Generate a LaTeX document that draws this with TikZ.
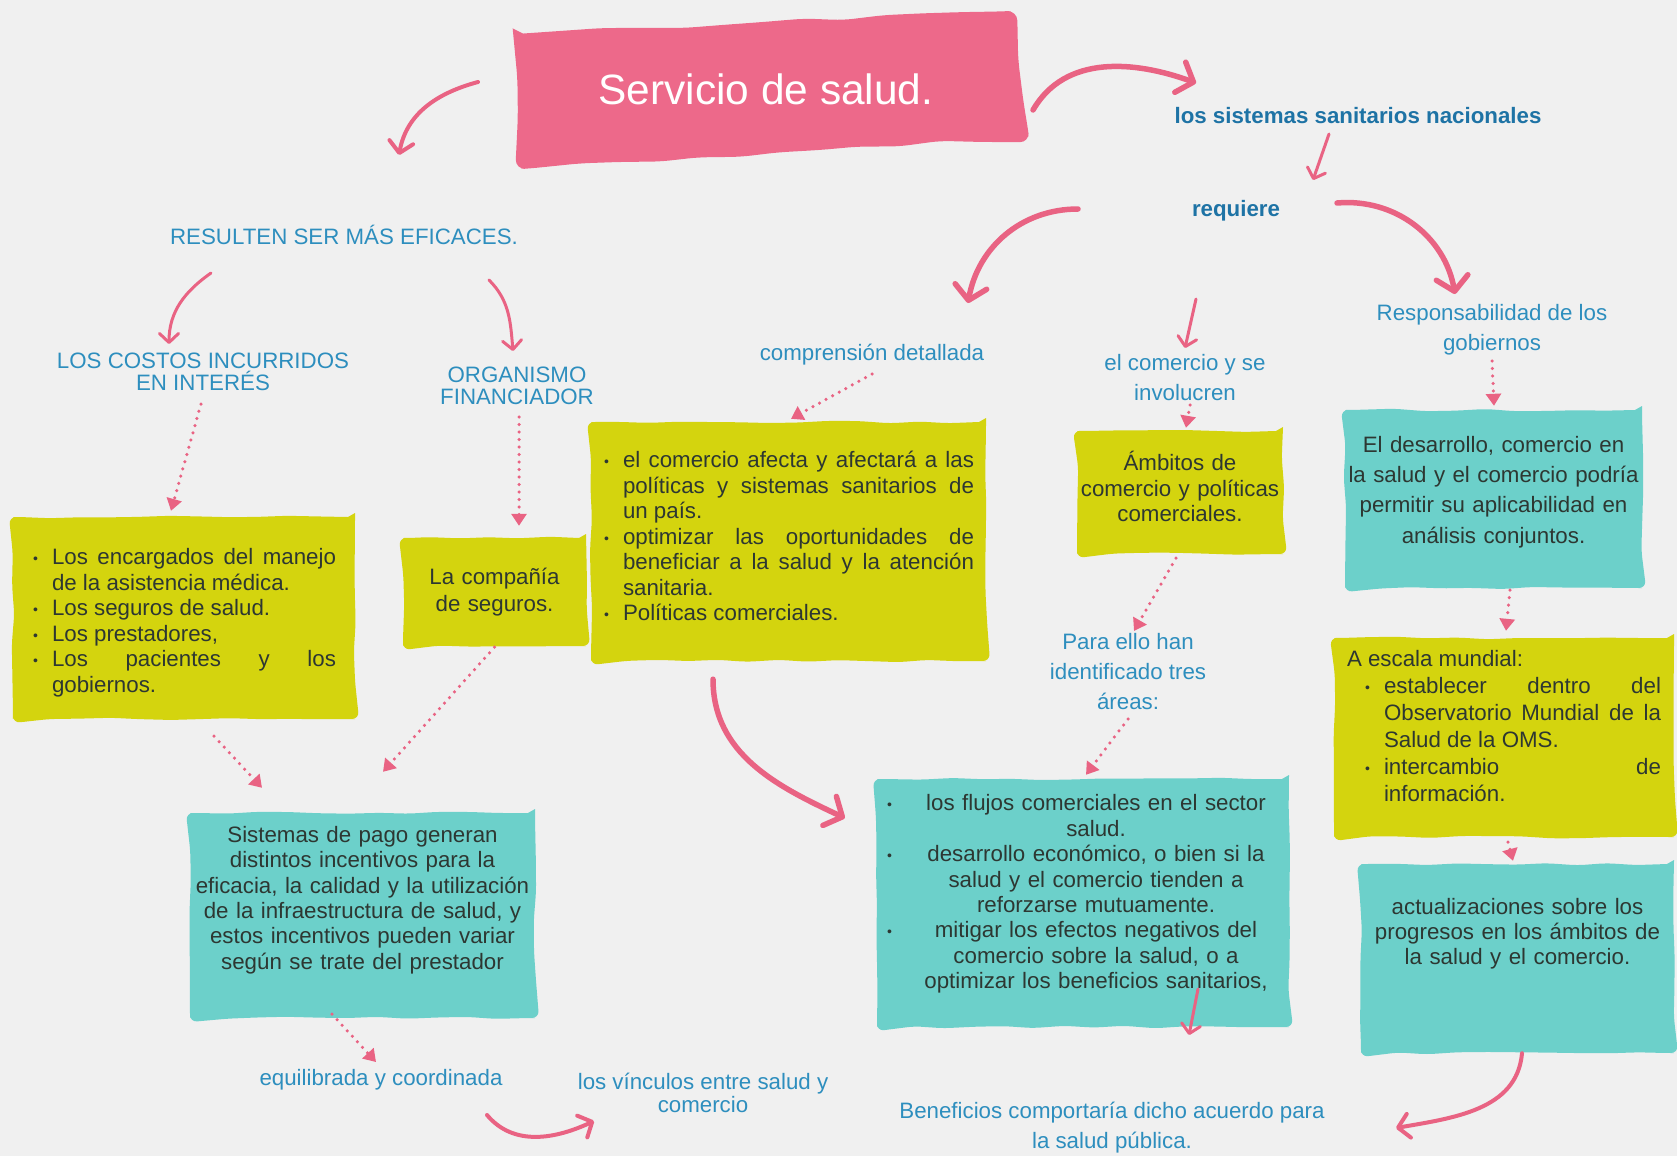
\documentclass[tikz,border=0pt]{standalone}
\usepackage{fontspec}
\setmainfont{Liberation Sans}
\usepackage{enumitem}
\usetikzlibrary{arrows.meta,decorations.pathmorphing}
\definecolor{fondo}{RGB}{240,240,240}
\definecolor{rosa}{RGB}{237,105,138}
\definecolor{flecha}{RGB}{233,99,131}
\definecolor{amarillo}{RGB}{212,212,14}
\definecolor{turquesa}{RGB}{108,208,202}
\definecolor{azul}{RGB}{45,142,190}
\definecolor{azulosc}{RGB}{30,115,165}
\definecolor{texto}{RGB}{45,55,50}
\setlength{\parindent}{0pt}
\tolerance=10000 \hbadness=10000 \hyphenpenalty=10000
\newcommand{\punto}{\raisebox{1pt}{\fontsize{14}{14}\selectfont\textbullet}}
\setlist[itemize]{nosep,labelsep=14pt,label=\punto}
\newcommand{\fitem}[1]{\makebox[366pt]{\rlap{\hspace*{-26pt}\punto}\hfill#1\hfill}}

\begin{document}
\begin{tikzpicture}[x=1pt,y=1pt,
  etiq/.style={inner sep=0pt,text=azul,align=center,font=\fontsize{22.3}{22}\selectfont},
  negrita/.style={etiq,text=azulosc,font=\fontsize{22.3}{26}\selectfont\bfseries},
  caja/.style={inner ysep=0pt,text=texto,font=\fontsize{22.3}{25.5}\selectfont,
    rounded corners=7pt,decorate,decoration={random steps,segment length=30pt,amplitude=1.3pt}},
  amarilla/.style={caja,fill=amarillo},
  verde/.style={caja,fill=turquesa},
  flechag/.style={draw=flecha,line width=5.5pt,line cap=round,-{Straight Barb[length=14pt,width=32pt,round]}},
  flecham/.style={draw=flecha,line width=4pt,line cap=round,-{Straight Barb[length=11pt,width=24pt,round]}},
  flechad/.style={draw=flecha,line width=3pt,line cap=round,-{Straight Barb[length=9pt,width=19pt,round]}},
  puntos/.style={draw=flecha,line width=3.5pt,line cap=round,dash pattern=on 0pt off 7.5pt,-{Triangle[length=12pt,width=15pt]}}]
\pgfmathsetseed{12}
\useasboundingbox (0,0) rectangle (1677,-1156);
% Fondo
\fill[fondo] (0,0) rectangle (1677,-1156);
% Titulo
\fill[rosa,rounded corners=10pt,decorate,decoration={random steps,segment length=40pt,amplitude=2pt}]
  (513,-34) -- (1011,-11) -- (1029,-137) -- (521,-169) -- cycle;
\node (title) at (766,-89) [text=white,font=\fontsize{42.4}{50}\selectfont] {Servicio de salud.};
% Etiquetas
\node (sistemas) at (1358,-116) [negrita] {los sistemas sanitarios nacionales};
\node (requiere) at (1236,-211) [negrita] {requiere};
\node (resulten) at (344,-235) [etiq] {RESULTEN SER MÁS EFICACES.};
\node (costos) at (203,-372) [etiq] {LOS COSTOS INCURRIDOS\\EN INTERÉS};
\node (organismo) at (517,-386) [etiq] {ORGANISMO\\FINANCIADOR};
\node (comprension) at (872,-355) [etiq] {comprensión detallada};
\node (involucren) at (1185,-378) [etiq,font=\fontsize{22.3}{30}\selectfont] {el comercio y se\\involucren};
\node (responsab) at (1492,-330) [etiq,font=\fontsize{22.3}{30}\selectfont] {Responsabilidad de los\\gobiernos};
\node (paraello) at (1128,-672) [etiq,font=\fontsize{22.3}{30}\selectfont] {Para ello han\\identificado tres\\áreas:};
\node (equilibrada) at (381,-1080) [etiq] {equilibrada y coordinada};
\node (vinculos) at (703,-1093) [etiq,font=\fontsize{22.3}{23}\selectfont] {los vínculos entre salud y\\comercio};
\node (beneficios) at (1112,-1128) [etiq,font=\fontsize{22.3}{30}\selectfont] {Beneficios comportaría dicho acuerdo para\\la salud pública.};
% Cajas
\node (sujetos) at (184,-618) [amarilla,text width=304pt,inner xsep=19pt,minimum height=202pt,align=justify] {%
\begin{itemize}[leftmargin=20pt]
\item Los encargados del manejo\linebreak de la asistencia médica.
\item Los seguros de salud.
\item Los prestadores,
\item Los pacientes y los\linebreak gobiernos.
\end{itemize}};
\node (compania) at (494.5,-592) [amarilla,text width=155pt,inner xsep=14pt,minimum height=108pt,align=center,
  font=\fontsize{22.3}{26.7}\selectfont] {La compañía\\de seguros.};
\node (afecta) at (788.5,-541.5) [amarilla,text width=371pt,inner xsep=12pt,minimum height=239pt,align=justify] {%
\begin{itemize}[leftmargin=20pt]
\item el comercio afecta y afectará a las\linebreak políticas y sistemas sanitarios de\linebreak un país.
\item optimizar las oportunidades de\linebreak beneficiar a la salud y la atención\linebreak sanitaria.
\item Políticas comerciales.
\end{itemize}\par\vspace{20pt}};
\node (ambitos) at (1180,-492.5) [amarilla,text width=206pt,inner xsep=0pt,minimum height=123pt,align=center,
  font=\fontsize{22.3}{25.7}\selectfont] {Ámbitos de\\comercio y políticas\\comerciales.\par\vspace{12pt}};
\node (desarrollo) at (1493.5,-499) [verde,text width=297pt,inner xsep=0pt,minimum height=178pt,align=center,
  font=\fontsize{22.3}{30.4}\selectfont] {El desarrollo, comercio en\\la salud y el comercio podría\\permitir su aplicabilidad en\\análisis conjuntos.\par\vspace{14pt}};
\node (mundial) at (1504,-737.5) [amarilla,text width=314pt,inner xsep=13pt,minimum height=199pt,align=justify,
  font=\fontsize{22.3}{27}\selectfont] {A escala mundial:
\begin{itemize}[leftmargin=37pt]
\item establecer dentro del\linebreak Observatorio Mundial de la\linebreak Salud de la OMS.
\item intercambio de\linebreak información.
\end{itemize}\par\vspace{22pt}};
\node (pago) at (362.5,-915.5) [verde,text width=341pt,inner xsep=2pt,minimum height=205pt,align=center,
  font=\fontsize{22.3}{25.4}\selectfont] {Sistemas de pago generan\\distintos incentivos para la\\eficacia, la calidad y la utilización\\de la infraestructura de salud, y\\estos incentivos pueden variar\\según se trate del prestador\par\vspace{31pt}};
\node (flujos) at (1083,-903) [verde,text width=392pt,inner xsep=10pt,minimum height=248pt,align=center,
  font=\fontsize{22.3}{25.4}\selectfont] {{\leftskip=26pt plus 1fil\rightskip=0pt plus 1fil\parfillskip=0pt
\fitem{los flujos comerciales en el sector}\par salud.\par
\fitem{desarrollo económico, o bien si la}\par salud y el comercio tienden a\par reforzarse mutuamente.\par
\fitem{mitigar los efectos negativos del}\par comercio sobre la salud, o a\par optimizar los beneficios sanitarios,\par}\vspace{18pt}};
\node (actualiz) at (1517.5,-958.5) [verde,text width=305pt,inner xsep=4pt,minimum height=189pt,align=center,
  font=\fontsize{22.3}{25.2}\selectfont] {actualizaciones sobre los\\progresos en los ámbitos de\\la salud y el comercio.\par\vspace{49pt}};
% Flechas
\draw[flecham] ([shift={(-288,7)}]title.center) to[out=195,in=80] ([shift={(55,80)}]resulten.center);
\draw[flechag] ([shift={(267,-21)}]title.center) to[out=60,in=160] ([shift={(-162,33)}]sistemas.center);
\draw[flechad] ([shift={(-29,-18)}]sistemas.center) -- ([shift={(77,31)}]requiere.center);
\draw[flechag] ([shift={(-158,2)}]requiere.center) to[out=180,in=80] ([shift={(96,52)}]comprension.center);
\draw[flechag] ([shift={(101,8)}]requiere.center) to[out=5,in=100] ([shift={(-37,36)}]responsab.center);
\draw[flechad] ([shift={(-40,-88)}]requiere.center) -- ([shift={(0,30)}]involucren.center);
\draw[flechad] ([shift={(-133,-38)}]resulten.center) to[out=215,in=90] ([shift={(-34,28)}]costos.center);
\draw[flechad] ([shift={(145,-45)}]resulten.center) to[out=-45,in=95] ([shift={(-4,35)}]organismo.center);
\draw[flechag] ([shift={(-75.5,-18)}]afecta.south) to[out=-90,in=155] ([shift={(-32,85)}]flujos.west);
\draw[flecham] ([shift={(106,-35)}]equilibrada.center) to[out=-50,in=205] ([shift={(-109,-28)}]vinculos.center);
\draw[flechad] ([shift={(115,-86)}]flujos.center) -- ([shift={(77,93)}]beneficios.center);
\draw[flecham] ([shift={(4.5,0)}]actualiz.south) to[out=-95,in=10] ([shift={(284,0)}]beneficios.center);
% Flechas punteadas
\draw[puntos] ([shift={(-2,-32)}]costos.center) -- ([shift={(-13,6)}]sujetos.north);
\draw[puntos] ([shift={(2,-31)}]organismo.center) -- ([shift={(24.5,12)}]compania.north);
\draw[puntos] ([shift={(0,-19)}]comprension.center) -- ([shift={(2.5,3)}]afecta.north);
\draw[puntos] ([shift={(5,-27)}]involucren.center) -- ([shift={(6,3)}]ambitos.north);
\draw[puntos] ([shift={(0,-31)}]responsab.center) -- ([shift={(0.5,4)}]desarrollo.north);
\draw[puntos] ([shift={(-4,-4)}]ambitos.south) -- ([shift={(6,41)}]paraello.center);
\draw[puntos] ([shift={(0,-47)}]paraello.center) -- ([shift={(3,4)}]flujos.north);
\draw[puntos] ([shift={(16.5,-2)}]desarrollo.south) -- ([shift={(2,7)}]mundial.north);
\draw[puntos] ([shift={(4,-5)}]mundial.south) -- ([shift={(-4.5,3)}]actualiz.north);
\draw[puntos] ([shift={(30,-17)}]sujetos.south) -- ([shift={(-100.5,25)}]pago.north);
\draw[puntos] ([shift={(0,-1)}]compania.south) -- ([shift={(20.5,41)}]pago.north);
\draw[puntos] ([shift={(-30.5,4)}]pago.south) -- ([shift={(-5,18)}]equilibrada.center);
\end{tikzpicture}
\end{document}
